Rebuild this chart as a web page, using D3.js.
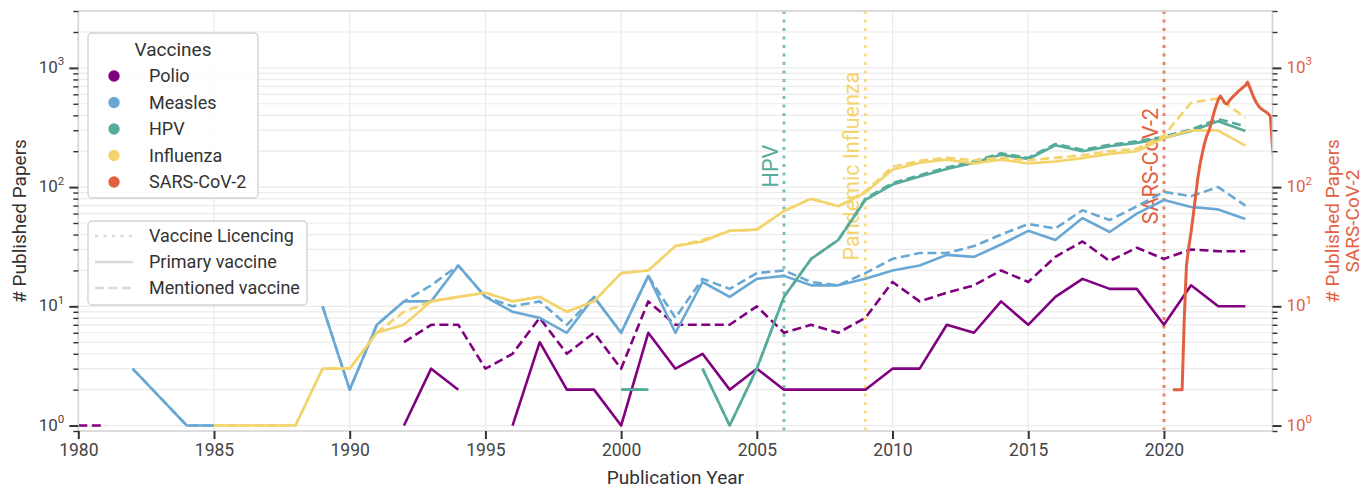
<!DOCTYPE html>
<html><head><meta charset="utf-8">
<script src="https://cdn.jsdelivr.net/npm/d3@7"></script>
<style>
html,body{margin:0;padding:0;background:#fff;}
svg{display:block;font-family:Roboto,"Noto Sans",sans-serif;}
</style></head><body>
<svg id="chart" width="1371" height="490"></svg>
<script>
// ---------------- DATA ----------------
// yearly counts, 1980..2023 ; 0 = no papers (line gap), null = year absent (line continues)
const years = [1980,1981,1982,1983,1984,1985,1986,1987,1988,1989,1990,1991,1992,1993,1994,1995,1996,1997,1998,1999,2000,2001,2002,2003,2004,2005,2006,2007,2008,2009,2010,2011,2012,2013,2014,2015,2016,2017,2018,2019,2020,2021,2022,2023];

const polioPrimary   = [0,0,0,0,0,0,0,0,0,0,0,0, 1,3,2,0,1,5,2,2,1,6,3,4,2,3,2,2,2,2,3,3,7,6,11,7,12,17,14,14,7,15,10,10];
const polioMentioned = [1,1,0,0,0,0,0,0,0,0,0,0, 5,7,7,3,4,8,4,6,3,11,7,7,7,10,6,7,6,8,16,11,13,15,20,16,26,35,24,31,25,30,29,29];

const measlesPrimary   = [0,0,3,null,1,1,0,0,0,10,2,7, 11,11,22,12,9,8,6,12,6,18,6,16,12,17,18,15,15,17,20,22,27,26,33,43,36,55,42,60,78,68,65,54];
const measlesMentioned = [0,0,3,null,1,1,0,0,0,10,2,7, 11,15,22,12,10,11,7,12,6,18,8,17,14,19,20,16,15,19,25,28,28,32,40,49,45,64,53,69,91,84,100,70];

const hpvPrimary   = [0,0,0,0,0,0,0,0,0,0,0,0, 0,0,0,0,0,0,0,0,2,2,0,3,1,3,12,25,36,78,105,123,142,160,187,172,224,200,220,235,258,295,357,295];
const hpvMentioned = [0,0,0,0,0,0,0,0,0,0,0,0, 0,0,0,0,0,0,0,0,2,2,0,3,1,3,12,25,36,80,108,126,146,165,192,176,230,206,226,242,265,305,372,324];

const fluPrimary   = [0,0,0,0,0,1,1,1,1,3,3,6, 7,11,12,13,11,12,9,11,19,20,32,35,43,44,63,80,69,90,140,160,170,158,170,158,164,175,190,200,258,300,298,223];
const fluMentioned = [0,0,0,0,0,1,1,1,1,3,3,6, 9,11,12,13,11,12,9,11,19,20,32,36,43,44,63,80,69,92,148,166,176,168,176,168,176,185,200,210,272,510,555,383];

// SARS-CoV-2 (monthly, right axis)
const sarsTime = [2020.33,2020.42,2020.50,2020.58,2020.67,2020.75,2020.83,2020.92,2021.00,2021.08,2021.17,2021.25,2021.33,2021.42,2021.50,2021.58,2021.67,2021.75,2021.83,2021.92,2022.00,2022.08,2022.17,2022.25,2022.33,2022.42,2022.50,2022.58,2022.67,2022.75,2022.83,2022.92,2023.00,2023.08,2023.17,2023.25,2023.33,2023.42,2023.50,2023.58,2023.67,2023.75,2023.83,2023.92,2024.00,2024.08];
const sarsCount = [2,2,2,2,2,8,22,32,42,58,85,120,155,195,235,270,300,350,410,480,540,580,540,505,500,535,560,585,610,640,660,690,710,760,680,610,550,505,475,455,440,428,415,395,215,150];

const vaccineNames  = ["Polio","Measles","HPV","Influenza","SARS-CoV-2"];
const vaccineColors = ["#800080","#6aa8d4","#56ab9a","#f3d46c","#e2603f"];
const licenceYears  = [2006, 2009, 2020];
const licenceLabels = ["HPV","Pandemic Influenza","SARS-CoV-2"];
const licenceColors = ["#56ab9a","#f3d46c","#e2603f"];
const styleNames = ["Vaccine Licencing","Primary vaccine","Mentioned vaccine"];
const xTicks = [1980,1985,1990,1995,2000,2005,2010,2015,2020];
const yTickExps = [0,1,2,3];

// ---------------- CHART ----------------
const svg = d3.select("#chart");
const L = 78.3, R = 1272.5, T = 11, B = 431;
const x = d3.scaleLinear().domain([1980, 2024]).range([L, R]);
const y = d3.scaleLog().domain([0.9, 3000]).range([B, T]);
const yR = d3.scaleLog().domain([0.9, 3000]).range([B, T]);

const logTicks = [];
for (let e = -1; e <= 3; e++) for (let k = 1; k <= 9; k++) {
  const v = k * Math.pow(10, e);
  if (v >= 0.9 - 1e-9 && v <= 3000 + 1e-9) logTicks.push(v);
}
const isMajor = v => Math.abs(Math.log10(v) - Math.round(Math.log10(v))) < 1e-9;

// grid
const grid = svg.append("g");
grid.selectAll("line.h").data(logTicks.filter(v => v >= 1)).enter().append("line")
  .attr("x1", L).attr("x2", R).attr("y1", d => y(d)).attr("y2", d => y(d))
  .attr("stroke", "#ebebeb").attr("stroke-width", 1.2);
grid.selectAll("line.v").data(xTicks.slice(1)).enter().append("line")
  .attr("x1", d => x(d)).attr("x2", d => x(d)).attr("y1", T).attr("y2", B)
  .attr("stroke", "#ebebeb").attr("stroke-width", 1.2);

// licence lines + labels
const lic = svg.append("g");
licenceYears.forEach((yr, i) => {
  lic.append("line").attr("x1", x(yr)).attr("x2", x(yr)).attr("y1", T).attr("y2", B)
    .attr("stroke", licenceColors[i]).attr("stroke-width", 3).attr("stroke-dasharray", "3,5.5")
    .attr("opacity", 0.75);
  lic.append("text").attr("transform", `translate(${x(yr) - 6},${y(150)}) rotate(-90)`)
    .attr("text-anchor", "middle").attr("font-size", 21.5).attr("fill", licenceColors[i])
    .text(licenceLabels[i]);
});

// series lines
const line = d3.line().defined(d => d.v > 0).x(d => x(d.t)).y(d => y(d.v));
function pts(vals) { return years.map((t, i) => ({t, v: vals[i]})).filter(d => d.v !== null); }
const series = [
  [polioPrimary, polioMentioned, 0],
  [measlesPrimary, measlesMentioned, 1],
  [hpvPrimary, hpvMentioned, 2],
  [fluPrimary, fluMentioned, 3]
];
const lines = svg.append("g").attr("fill", "none").attr("stroke-linejoin", "round");
series.forEach(([p, m, ci]) => {
  lines.append("path").attr("d", line(pts(p))).attr("stroke", vaccineColors[ci]).attr("stroke-width", 2.6);
  lines.append("path").attr("d", line(pts(m))).attr("stroke", vaccineColors[ci]).attr("stroke-width", 2.6)
    .attr("stroke-dasharray", "9,4.5");
});
svg.append("clipPath").attr("id", "clip").append("rect").attr("x", L).attr("y", T).attr("width", R - L).attr("height", B - T);
const lineR = d3.line().x(d => x(d.t)).y(d => yR(d.v));
lines.append("path").attr("clip-path", "url(#clip)")
  .attr("d", lineR(sarsTime.map((t, i) => ({t, v: sarsCount[i]}))))
  .attr("stroke", vaccineColors[4]).attr("stroke-width", 3);

// spines
const sp = svg.append("g").attr("stroke", "#d2d2d2").attr("stroke-width", 1.6);
sp.append("line").attr("x1", L).attr("x2", L).attr("y1", T).attr("y2", B);
sp.append("line").attr("x1", R).attr("x2", R).attr("y1", T).attr("y2", B);
sp.append("line").attr("x1", L).attr("x2", R).attr("y1", T).attr("y2", T);
sp.append("line").attr("x1", L).attr("x2", R).attr("y1", B).attr("y2", B);

// left axis
const axL = svg.append("g").attr("transform", `translate(${L},0)`)
  .call(d3.axisLeft(y).tickValues(logTicks).tickFormat("").tickSizeOuter(0));
axL.select(".domain").remove();
axL.selectAll(".tick line").attr("stroke", "#333")
  .attr("x2", d => isMajor(d) ? -9 : -5).attr("stroke-width", d => isMajor(d) ? 2 : 1.4);
// right axis
const axR = svg.append("g").attr("transform", `translate(${R},0)`)
  .call(d3.axisRight(yR).tickValues(logTicks).tickFormat("").tickSizeOuter(0));
axR.select(".domain").remove();
axR.selectAll(".tick line").attr("stroke", "#333")
  .attr("x2", d => isMajor(d) ? 9 : 5).attr("stroke-width", d => isMajor(d) ? 2 : 1.4);

function powLabel(g, xp, yp, e, anchor, color) {
  const t = g.append("text").attr("x", xp).attr("y", yp).attr("text-anchor", anchor)
    .attr("font-size", 17).attr("fill", color).attr("dominant-baseline", "middle");
  t.append("tspan").text("10");
  t.append("tspan").attr("font-size", 11.5).attr("dy", -6.5).text(e);
}
yTickExps.forEach(e => {
  powLabel(svg, L - 14, y(Math.pow(10, e)) + 1, e, "end", "#444");
  powLabel(svg, R + 14, yR(Math.pow(10, e)) + 1, e, "start", vaccineColors[4]);
});

// bottom axis
const axB = svg.append("g").attr("transform", `translate(0,${B})`)
  .call(d3.axisBottom(x).tickValues(xTicks).tickFormat(d3.format("d")).tickSizeOuter(0).tickSize(8).tickPadding(5));
axB.select(".domain").remove();
axB.selectAll(".tick line").attr("stroke", "#333").attr("stroke-width", 2);
axB.selectAll(".tick text").attr("font-size", 17.5).attr("fill", "#444").attr("font-family", "Roboto");

// axis titles
svg.append("text").attr("x", (L + R) / 2).attr("y", 484).attr("text-anchor", "middle")
  .attr("font-size", 19).attr("fill", "#333").text("Publication Year");
svg.append("text").attr("transform", `translate(26,${(T + B) / 2}) rotate(-90)`).attr("text-anchor", "middle")
  .attr("font-size", 19).attr("fill", "#333").text("# Published Papers");
svg.append("text").attr("transform", `translate(1339,${(T + B) / 2}) rotate(-90)`).attr("text-anchor", "middle")
  .attr("font-size", 19).attr("fill", vaccineColors[4]).text("# Published Papers");
svg.append("text").attr("transform", `translate(1359,${(T + B) / 2}) rotate(-90)`).attr("text-anchor", "middle")
  .attr("font-size", 19).attr("fill", vaccineColors[4]).text("SARS-CoV-2");

// legend 1
const lg = svg.append("g");
lg.append("rect").attr("x", 88).attr("y", 33).attr("width", 170).attr("height", 165).attr("rx", 4)
  .attr("fill", "#fff").attr("fill-opacity", 0.85).attr("stroke", "#d2d2d2").attr("stroke-width", 1.3);
lg.append("text").attr("x", 173).attr("y", 56).attr("text-anchor", "middle").attr("font-size", 19)
  .attr("fill", "#333").text("Vaccines");
vaccineNames.forEach((n, i) => {
  const cy = 76 + i * 26.5;
  lg.append("circle").attr("cx", 114).attr("cy", cy).attr("r", 5.7).attr("fill", vaccineColors[i]);
  lg.append("text").attr("x", 149).attr("y", cy + 6).attr("font-size", 18).attr("fill", "#333").text(n);
});
// legend 2
const lg2 = svg.append("g");
lg2.append("rect").attr("x", 88).attr("y", 221).attr("width", 219).attr("height", 84).attr("rx", 4)
  .attr("fill", "#fff").attr("fill-opacity", 0.85).attr("stroke", "#d2d2d2").attr("stroke-width", 1.3);
const dashes = ["3,5.5", null, "9,4.5"];
styleNames.forEach((n, i) => {
  const cy = 236 + i * 26;
  lg2.append("line").attr("x1", 95).attr("x2", 133).attr("y1", cy).attr("y2", cy)
    .attr("stroke", "#dadada").attr("stroke-width", 2.6).attr("stroke-dasharray", dashes[i]);
  lg2.append("text").attr("x", 149).attr("y", cy + 6).attr("font-size", 18).attr("fill", "#333").text(n);
});
</script></body></html>
